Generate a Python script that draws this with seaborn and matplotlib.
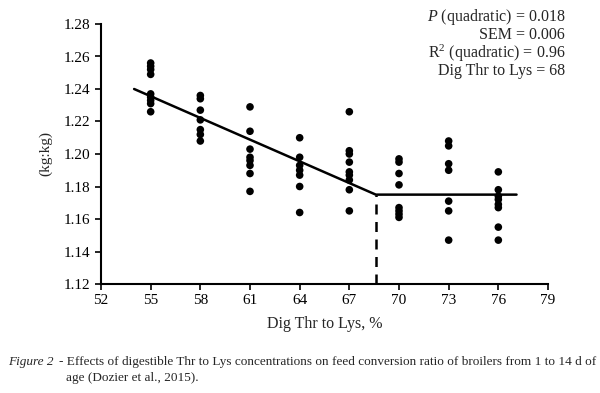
import numpy as np
import pandas as pd
import matplotlib
matplotlib.use("Agg")
import matplotlib.pyplot as plt
import seaborn as sns

# Data
thr_55 = [1.256, 1.254, 1.252, 1.249, 1.237, 1.235, 1.233, 1.231, 1.226]
thr_58 = [1.236, 1.234, 1.227, 1.221, 1.215, 1.212, 1.208]
thr_61 = [1.229, 1.214, 1.203, 1.198, 1.196, 1.193, 1.188, 1.177]
thr_64 = [1.210, 1.198, 1.193, 1.190, 1.187, 1.180, 1.164]
thr_67 = [1.226, 1.202, 1.200, 1.195, 1.189, 1.187, 1.184, 1.178, 1.165]
thr_70 = [1.197, 1.195, 1.188, 1.181, 1.167, 1.165, 1.163, 1.161]
thr_73 = [1.208, 1.205, 1.194, 1.190, 1.171, 1.165, 1.147]
thr_76 = [1.189, 1.178, 1.174, 1.172, 1.169, 1.167, 1.155, 1.147]
levels = [55, 58, 61, 64, 67, 70, 73, 76]
groups = [thr_55, thr_58, thr_61, thr_64, thr_67, thr_70, thr_73, thr_76]

fit_x = [54.0, 68.6, 77.1]
fit_y = [1.240, 1.175, 1.175]
break_x = 68.6
plateau = 1.175

xticks = [52, 55, 58, 61, 64, 67, 70, 73, 76, 79]
yticks = [1.12, 1.14, 1.16, 1.18, 1.20, 1.22, 1.24, 1.26, 1.28]

stats_lines = ["$\\it{P}$ (quadratic) = 0.018", "SEM = 0.006",
               "R$^2$ (quadratic) = 0.96", "Dig Thr to Lys = 68"]

df = pd.DataFrame({
    "x": np.concatenate([[lv] * len(g) for lv, g in zip(levels, groups)]),
    "y": np.concatenate(groups),
})
fit = pd.DataFrame({"x": fit_x, "y": fit_y})

sns.set_style("white")
plt.rcParams["font.family"] = ["Liberation Serif", "DejaVu Serif"]
plt.rcParams["mathtext.fontset"] = "custom"
plt.rcParams["mathtext.rm"] = "Liberation Serif"
plt.rcParams["mathtext.it"] = "Liberation Serif:italic"

fig = plt.figure(figsize=(6, 3.93), dpi=100)
ax = fig.add_axes([101 / 600, 1 - 284 / 393, (548 - 101) / 600, (284 - 24) / 393])

sns.scatterplot(data=df, x="x", y="y", ax=ax, color="black", s=30,
                edgecolor="none", zorder=3)
sns.lineplot(data=fit, x="x", y="y", ax=ax, color="black", lw=1.8,
             zorder=2, estimator=None, sort=False)
ax.plot([break_x, break_x], [yticks[0], plateau], color="black", lw=1.8,
        ls=(0, (4, 3)))

ax.set_xlim(52, 79)
ax.set_ylim(1.12, 1.28)
ax.set_xticks(xticks)
ax.set_yticks(yticks)
ax.set_yticklabels([f"{v:.2f}" for v in yticks])
ax.tick_params(axis="both", direction="out", length=4, width=1.2,
               labelsize=11, colors="black", left=True, bottom=True)
for s in ["top", "right"]:
    ax.spines[s].set_visible(False)
for s in ["left", "bottom"]:
    ax.spines[s].set_color("black")
    ax.spines[s].set_linewidth(1.5)

ax.set_xlabel("Dig Thr to Lys, %", fontsize=11.5, labelpad=6)
ax.set_ylabel("(kg:kg)", fontsize=11, labelpad=8)

for i, t in enumerate(stats_lines):
    fig.text(565 / 600, 1 - (17 + 18 * i) / 393, t, ha="right", va="center",
             fontsize=11.5)

fig.text(8 / 600, 1 - 362 / 393, "Figure 2", style="italic", fontsize=9.5,
         va="center")
fig.text(59 / 600, 1 - 362 / 393,
         "- Effects of digestible Thr to Lys concentrations on feed conversion ratio of broilers from 1 to 14 d of",
         fontsize=9.5, va="center")
fig.text(66 / 600, 1 - 378 / 393, "age (Dozier et al., 2015).", fontsize=9.5,
         va="center")

fig.savefig("out.png", dpi=100)
